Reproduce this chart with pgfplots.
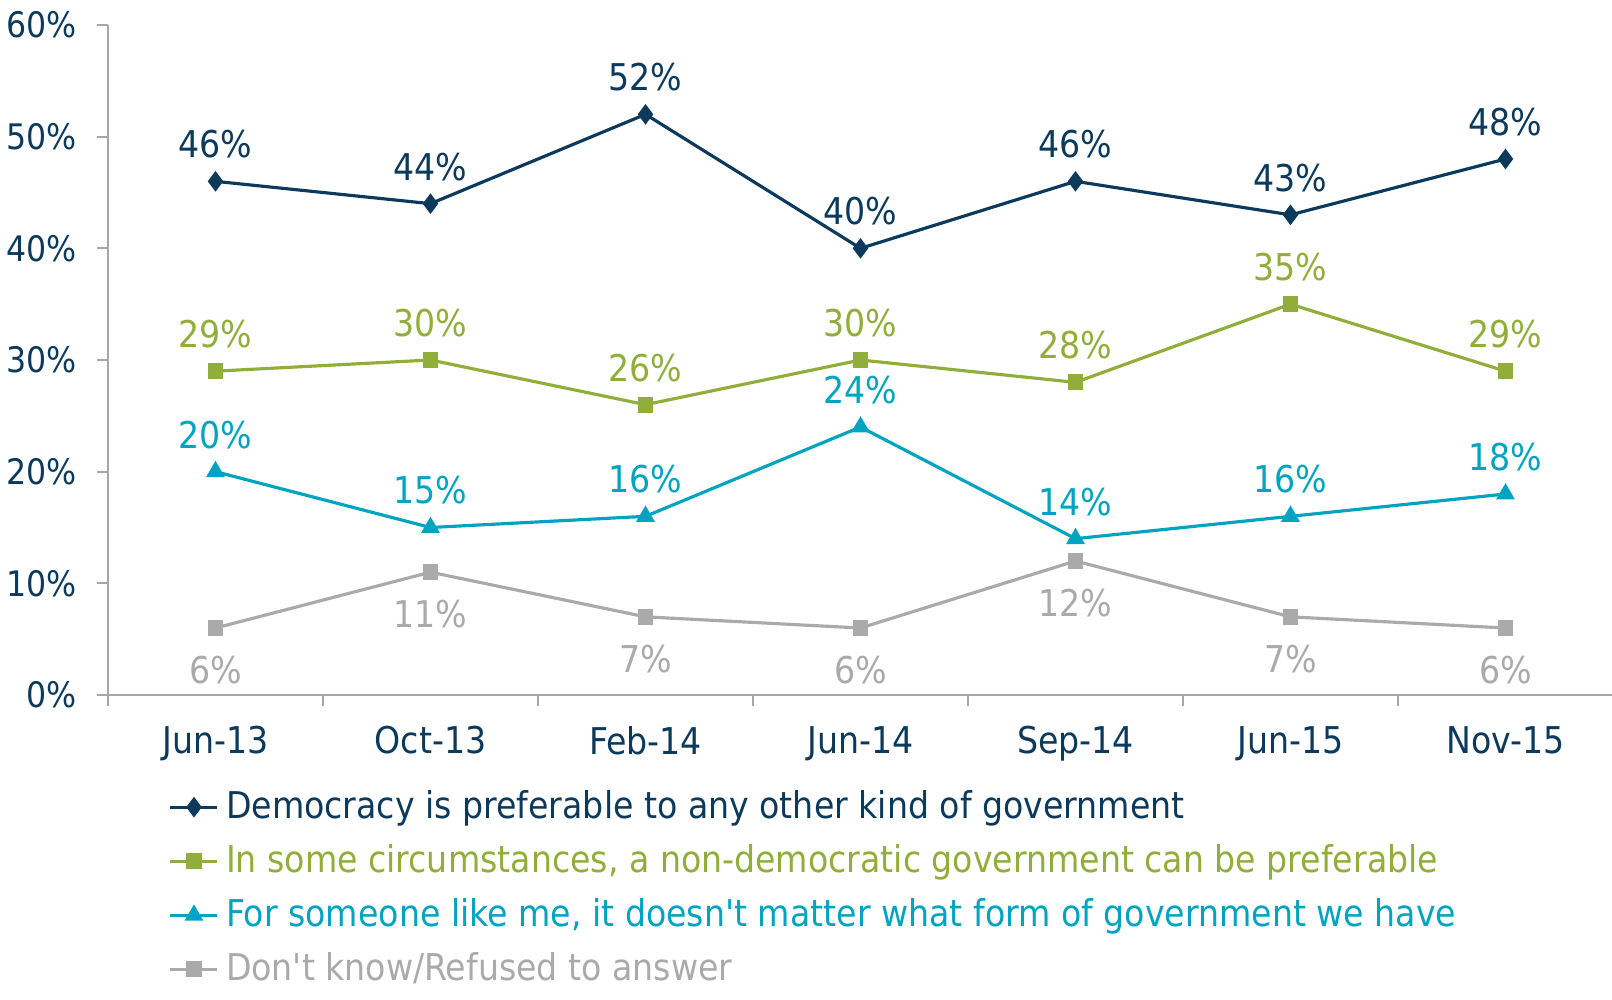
\documentclass[border=0pt]{standalone}
\usepackage{fontspec}
\setmainfont{DejaVu Sans Condensed}
\usepackage{pgfplots}
\pgfplotsset{compat=1.18}
\definecolor{cNavy}{RGB}{12,58,92}
\definecolor{cGreen}{RGB}{146,174,58}
\definecolor{cTeal}{RGB}{0,164,192}
\definecolor{cGray}{RGB}{170,170,170}
\definecolor{cAxis}{RGB}{166,166,166}

\begin{document}
\begin{tikzpicture}
\useasboundingbox (0,0) rectangle (16.12,-10);
\begin{axis}[
    at={(1.08cm,-6.95cm)}, anchor=south west,
    scale only axis,
    width=15.05cm, height=6.70cm,
    xmin=-0.5, xmax=6.5, ymin=0, ymax=60,
    axis lines*=left,
    axis line style={cAxis, line width=0.6pt},
    tick align=outside,
    tick style={cAxis, line width=0.6pt},
    major tick length=0.11cm,
    minor tick length=0.11cm,
    xtick={0,...,6},
    xticklabels={Jun-13,Oct-13,Feb-14,Jun-14,Sep-14,Jun-15,Nov-15},
    major x tick style={draw=none},
    minor xtick={-0.5,0.5,...,6.5},
    ytick={0,10,...,60},
    yticklabel={\pgfmathprintnumber[assume math mode=true]{\tick}\%},
    tick label style={font=\fontsize{10.5}{12}\selectfont, text=cNavy},
    xticklabel style={yshift=-0.08cm},
    yticklabel style={xshift=-0.08cm, font=\fontsize{10}{12}\selectfont},
    nodes near coords={\pgfmathprintnumber[assume math mode=true]{\pgfplotspointmeta}\%},
    every node near coord/.append style={font=\fontsize{10.5}{12}\selectfont, anchor=center},
    legend style={at={(axis description cs:0.04,-0.131)}, anchor=north west,
        draw=none, fill=none, inner sep=0pt, row sep=1.9pt,
        font=\fontsize{10.5}{12}\selectfont},
    legend cell align=left,
    legend image code/.code={\draw[mark repeat=2,mark phase=2] plot coordinates {(0cm,0cm) (0.235cm,0cm) (0.47cm,0cm)};},
]
\addplot[cNavy, line width=0.9pt, mark=diamond*, mark size=2.2pt,
    every node near coord/.append style={text=cNavy, yshift=0.37cm}]
    coordinates {(0,46) (1,44) (2,52) (3,40) (4,46) (5,43) (6,48)};
\addlegendentry{\textcolor{cNavy}{Democracy is preferable to any other kind of government}}
\addplot[cGreen, line width=0.9pt, mark=square*, mark size=1.8pt,
    every node near coord/.append style={text=cGreen, yshift=0.37cm}]
    coordinates {(0,29) (1,30) (2,26) (3,30) (4,28) (5,35) (6,29)};
\addlegendentry{\textcolor{cGreen}{In some circumstances, a non-democratic government can be preferable}}
\addplot[cTeal, line width=0.9pt, mark=triangle*, mark size=2.2pt,
    every node near coord/.append style={text=cTeal, yshift=0.37cm}]
    coordinates {(0,20) (1,15) (2,16) (3,24) (4,14) (5,16) (6,18)};
\addlegendentry{\textcolor{cTeal}{For someone like me, it doesn\textquotesingle t matter what form of government we have}}
\addplot[cGray, line width=0.9pt, mark=square*, mark size=1.8pt,
    every node near coord/.append style={text=cGray, yshift=-0.42cm}]
    coordinates {(0,6) (1,11) (2,7) (3,6) (4,12) (5,7) (6,6)};
\addlegendentry{\textcolor{cGray}{Don\textquotesingle t know/Refused to answer}}
\end{axis}
\end{tikzpicture}
\end{document}
